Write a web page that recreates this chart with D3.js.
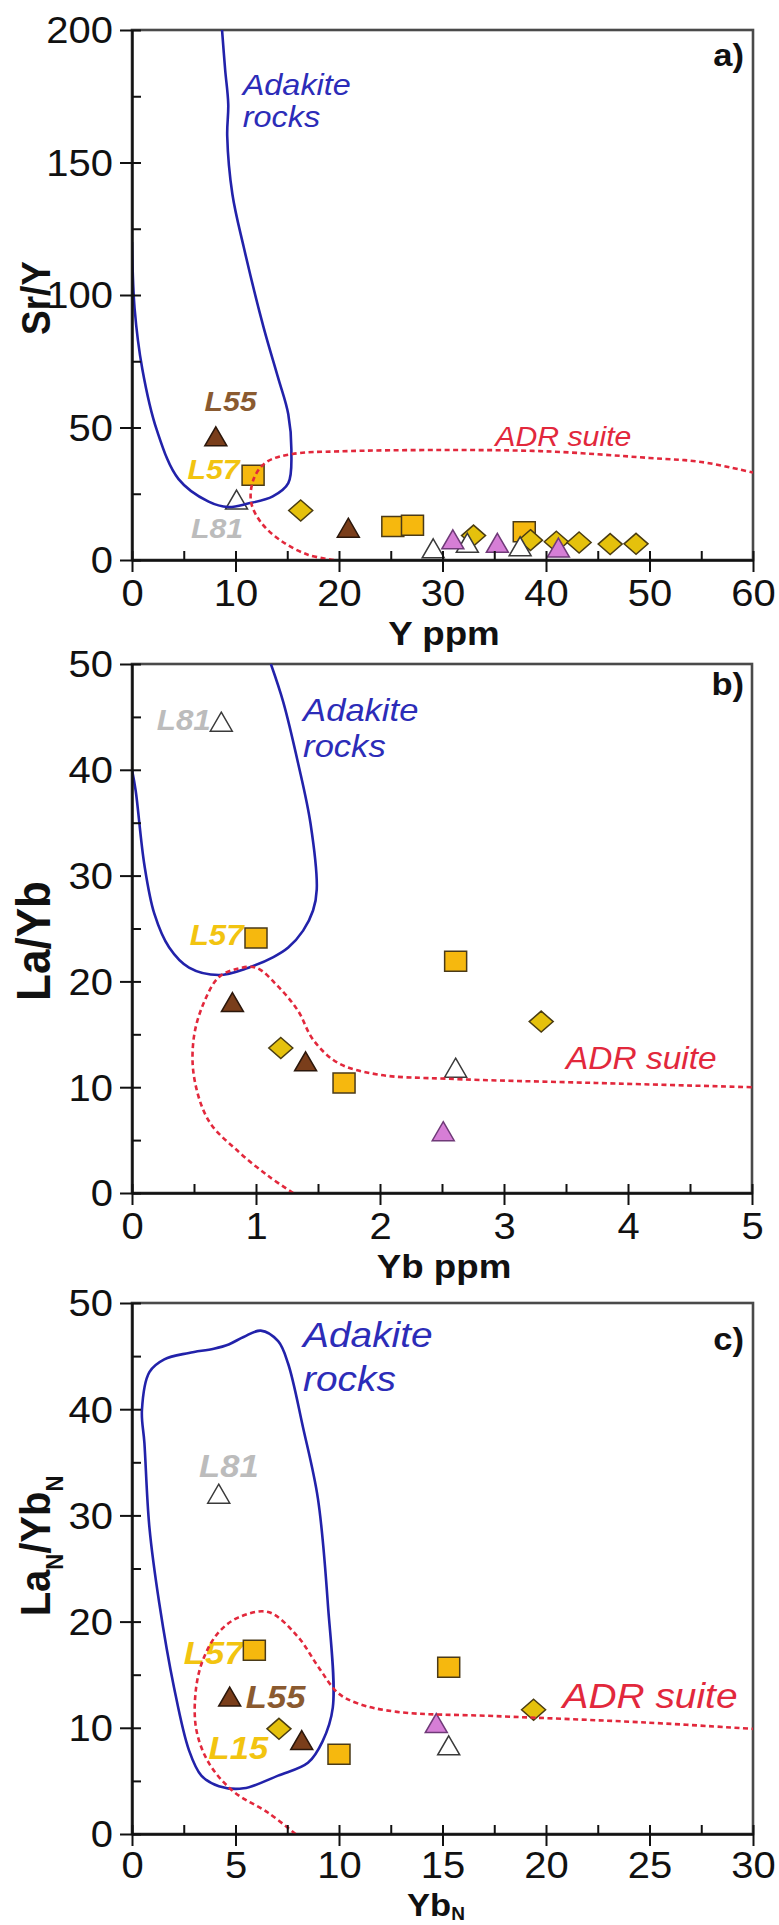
<!DOCTYPE html>
<html><head><meta charset="utf-8">
<script src="https://cdn.jsdelivr.net/npm/d3@7"></script>
<style>body{margin:0;background:#fff} svg{display:block}</style>
</head><body>
<svg id="chart" width="779" height="1925"></svg>
<script>
// ---------------- Panel a: Sr/Y vs Y ppm ----------------
const aXTicks = [0,10,20,30,40,50,60];
const aXMinor = [5,15,25,35,45,55];
const aYTicks = [0,50,100,150,200];
const aYMinor = [25,75,125,175];
const aOrangeSq = [[11.7,32.0],[25.2,12.6],[27.1,13.1],[37.9,10.7]];
const aYellowDia = [[16.3,18.7],[33.0,9.2],[38.5,7.5],[41.0,6.9],[43.2,6.6],[46.2,6.0],[48.7,6.1]];
const aWhiteTri = [[10.1,22.6],[29.1,4.2],[32.4,6.3],[37.5,5.0]];
const aPinkTri = [[31.0,7.6],[35.3,6.3],[41.2,4.5]];
const aBrownTri = [[8.1,46.5],[20.9,12.0]];
const aAdakite = [[8.7,200],[9.0,185],[9.3,172],[9.2,160],[9.7,138],[10.8,118],[12.7,88],[14.1,69],[15.1,55],[15.4,41],[15.1,29],[13.6,24],[11.2,21.3],[9.3,20],[7.4,22],[4.5,30.5],[2.4,49],[1.0,72],[0.25,95],[0,120]];
const aADR = [[19.5,0],[17,2],[14.5,7],[12.5,14],[11.5,22],[11.8,31],[13,37],[15.5,40],[20,41],[30,41.5],[40,41],[50,38.5],[55,37],[60,33]];

// ---------------- Panel b: La/Yb vs Yb ppm ----------------
const bXTicks = [0,1,2,3,4,5];
const bXMinor = [0.5,1.5,2.5,3.5,4.5];
const bYTicks = [0,10,20,30,40,50];
const bYMinor = [5,15,25,35,45];
const bOrangeSq = [[1.0,24.1],[2.61,21.9],[1.71,10.4]];
const bYellowDia = [[1.2,13.7],[3.3,16.2]];
const bWhiteTri = [[0.72,44.5],[2.61,11.8]];
const bPinkTri = [[2.51,5.8]];
const bBrownTri = [[0.81,18.0],[1.4,12.4]];
const bAdakite = [[1.12,50],[1.22,46.4],[1.34,40.6],[1.44,34.9],[1.49,28.7],[1.46,26.7],[1.38,24.8],[1.26,23.2],[1.14,22.3],[0.94,21.3],[0.7,20.6],[0.46,21.3],[0.3,23.2],[0.18,26.4],[0.1,31],[0.03,38],[0,40]];
const bADR = [[1.3,0],[1.1,1.6],[0.86,3.9],[0.62,6.8],[0.5,11],[0.5,14.8],[0.58,18],[0.7,20.4],[0.85,21.2],[1.0,21.3],[1.18,19.5],[1.34,17.2],[1.46,14.5],[1.66,12.3],[1.98,11.2],[2.54,10.8],[3.74,10.4],[5,10]];

// ---------------- Panel c: LaN/YbN vs YbN ----------------
const cXTicks = [0,5,10,15,20,25,30];
const cXMinor = [2.5,7.5,12.5,17.5,22.5,27.5];
const cYTicks = [0,10,20,30,40,50];
const cYMinor = [5,15,25,35,45];
const cOrangeSq = [[5.91,17.3],[10.0,7.5],[15.3,15.7]];
const cYellowDia = [[7.1,9.9],[19.4,11.7]];
const cWhiteTri = [[4.19,32.0],[15.3,8.3]];
const cPinkTri = [[14.7,10.4]];
const cBrownTri = [[4.72,12.9],[8.2,8.8]];
const cAdakite = [[0.48,39.9],[0.84,43.5],[1.56,44.7],[2.75,45.3],[3.95,45.7],[4.67,46.1],[5.39,46.8],[6.22,47.4],[7.06,46.4],[7.54,44.3],[8.26,38.3],[8.98,31.6],[9.46,21.7],[9.7,11.9],[9.2,8.7],[8.5,6.7],[7.06,5.5],[5.39,4.3],[4.2,4.5],[3.35,5.5],[2.75,7.9],[2.03,13.8],[1.32,21.7],[0.84,28.9],[0.6,36.8]];
const cADR = [[7.9,0],[6.58,2],[4.9,4],[3.71,6.7],[3.1,9.9],[3.1,13.8],[3.47,16.6],[4.19,19],[5.15,20.4],[6.58,20.9],[8.0,18.6],[8.98,15.8],[9.94,13.3],[10.9,12.3],[12.8,11.5],[17.6,11.1],[24.8,10.5],[30,9.9]];

// ---------------- rendering ----------------
const FONT = "'Liberation Sans', Arial, Helvetica, sans-serif";
const SX = 1.08;
const svg = d3.select('#chart');

const C = {
  blue:'#2222aa', blueText:'#2c2cb8', red:'#e2283c',
  L55:'#8a5a30', L57:'#f2c410', L81:'#bcbcbc'
};
const markerStyles = [
  {key:'orangeSq', shape:'square', fill:'#f6b80e', stroke:'#4a3a18'},
  {key:'yellowDia', shape:'diamond', fill:'#e5c10c', stroke:'#4a3c12'},
  {key:'whiteTri', shape:'tri', fill:'#ffffff', stroke:'#3a3a3a'},
  {key:'pinkTri', shape:'tri', fill:'#d67ed6', stroke:'#6f3a78'},
  {key:'brownTri', shape:'tri', fill:'#7a3e1b', stroke:'#2b170b'}
];
function shapePath(s){
  if (s==='square') return 'M-11,-10H11V10H-11Z';
  if (s==='diamond') return 'M0,-10.5L12,0L0,10.5L-12,0Z';
  return 'M0,-10L11,9L-11,9Z';
}

function addText(parent, x, y, parts, o){
  const t = parent.append('text')
    .attr('transform', `translate(${x},${y}) scale(${SX},1)` + (o.rotate ? ` rotate(${o.rotate})` : ''))
    .attr('text-anchor', o.anchor || 'start')
    .attr('font-family', FONT)
    .attr('font-size', o.size)
    .attr('font-weight', o.weight || 'normal')
    .attr('font-style', o.style || 'normal')
    .attr('fill', o.color || '#000');
  const sh = o.subShift || 0.3;
  if (typeof parts === 'string') t.text(parts);
  else parts.forEach(p => {
    const s = t.append('tspan').text(p.t);
    if (p.sub) s.attr('font-size', o.size*0.55).attr('dy', o.size*sh);
    if (p.up) s.attr('dy', -o.size*sh);
  });
  return t;
}

const panels = [
  {id:'a', left:132, right:753, top:30, bottom:560, xDom:[0,60], yDom:[0,200],
   xTicks:aXTicks, xMinor:aXMinor, yTicks:aYTicks, yMinor:aYMinor,
   data:{orangeSq:aOrangeSq, yellowDia:aYellowDia, whiteTri:aWhiteTri, pinkTri:aPinkTri, brownTri:aBrownTri},
   adakite:aAdakite, closed:false, adr:aADR,
   xTitle:[{t:'Y ppm'}], xTitleX:444, tickOff:46, titleOff:85, titleSize:34, subShift:0.18,
   yTitle:[{t:'Sr/Y'}], yTitleX:50, yTitleY:298, yTitleSize:37,
   tag:'a)', tagY:66,
   labels:[
     {t:'Adakite', x:10.7, y:175.5, size:30, style:'italic', color:C.blueText},
     {t:'rocks', x:10.7, y:163.4, size:30, style:'italic', color:C.blueText},
     {t:'ADR suite', x:35.1, y:43, size:28, style:'italic', color:C.red},
     {t:'L55', x:7.0, y:56.2, size:28, style:'italic', weight:'bold', color:C.L55},
     {t:'L57', x:10.4, y:30.6, size:28, style:'italic', weight:'bold', color:C.L57, anchor:'end'},
     {t:'L81', x:5.7, y:8.3, size:28, style:'italic', weight:'bold', color:C.L81}
   ]},
  {id:'b', left:132, right:752, top:664, bottom:1193, xDom:[0,5], yDom:[0,50],
   xTicks:bXTicks, xMinor:bXMinor, yTicks:bYTicks, yMinor:bYMinor,
   data:{orangeSq:bOrangeSq, yellowDia:bYellowDia, whiteTri:bWhiteTri, pinkTri:bPinkTri, brownTri:bBrownTri},
   adakite:bAdakite, closed:false, adr:bADR,
   xTitle:[{t:'Yb ppm'}], xTitleX:444, tickOff:46, titleOff:85, titleSize:34, subShift:0.18,
   yTitle:[{t:'La/Yb'}], yTitleX:50, yTitleY:941, yTitleSize:44,
   tag:'b)', tagY:695,
   labels:[
     {t:'Adakite', x:1.38, y:44.6, size:32, style:'italic', color:C.blueText},
     {t:'rocks', x:1.38, y:41.2, size:32, style:'italic', color:C.blueText},
     {t:'ADR suite', x:3.5, y:11.7, size:31, style:'italic', color:C.red},
     {t:'L81', x:0.2, y:43.8, size:29, style:'italic', weight:'bold', color:C.L81},
     {t:'L57', x:0.9, y:23.4, size:29, style:'italic', weight:'bold', color:C.L57, anchor:'end'}
   ]},
  {id:'c', left:132, right:753, top:1303, bottom:1834, xDom:[0,30], yDom:[0,50],
   xTicks:cXTicks, xMinor:cXMinor, yTicks:cYTicks, yMinor:cYMinor,
   data:{orangeSq:cOrangeSq, yellowDia:cYellowDia, whiteTri:cWhiteTri, pinkTri:cPinkTri, brownTri:cBrownTri},
   adakite:cAdakite, closed:true, adr:cADR,
   xTitle:[{t:'Yb'},{t:'N', sub:true}], xTitleX:436, tickOff:44, titleOff:82, titleSize:32, subShift:0.12,
   yTitle:[{t:'La'},{t:'N', sub:true},{t:'/Yb', up:true},{t:'N', sub:true}], yTitleX:50, yTitleY:1546, yTitleSize:40,
   tag:'c)', tagY:1350,
   labels:[
     {t:'Adakite', x:8.26, y:45.9, size:36, style:'italic', color:C.blueText},
     {t:'rocks', x:8.26, y:41.7, size:36, style:'italic', color:C.blueText},
     {t:'ADR suite', x:20.8, y:11.9, size:36, style:'italic', color:C.red},
     {t:'L81', x:3.24, y:33.6, size:32, style:'italic', weight:'bold', color:C.L81},
     {t:'L57', x:5.38, y:16.0, size:32, style:'italic', weight:'bold', color:C.L57, anchor:'end'},
     {t:'L55', x:5.5, y:11.9, size:32, style:'italic', weight:'bold', color:C.L55},
     {t:'L15', x:3.7, y:7.1, size:32, style:'italic', weight:'bold', color:C.L57}
   ]}
];

panels.forEach(p => {
  const g = svg.append('g').attr('class','panel-'+p.id);
  const x = d3.scaleLinear().domain(p.xDom).range([p.left, p.right]);
  const y = d3.scaleLinear().domain(p.yDom).range([p.bottom, p.top]);

  g.append('clipPath').attr('id','clip-'+p.id).append('rect')
    .attr('x',p.left).attr('y',p.top).attr('width',p.right-p.left).attr('height',p.bottom-p.top);

  // frame (top & right)
  g.append('rect').attr('x',p.left).attr('y',p.top).attr('width',p.right-p.left).attr('height',p.bottom-p.top)
    .attr('fill','none').attr('stroke','#4a4a4a').attr('stroke-width',2.6);

  // labels inside
  p.labels.forEach(l => addText(g, x(l.x), y(l.y), l.t, {size:l.size, style:l.style, weight:l.weight, color:l.color, anchor:l.anchor}));

  // markers
  const mg = g.append('g');
  markerStyles.forEach(ms => {
    mg.selectAll('path.'+ms.key).data(p.data[ms.key]).join('path')
      .attr('class', ms.key)
      .attr('d', shapePath(ms.shape))
      .attr('transform', d => `translate(${x(d[0])},${y(d[1])})`)
      .attr('fill', ms.fill).attr('stroke', ms.stroke).attr('stroke-width',1.5);
  });

  // curves
  const cg = g.append('g').attr('clip-path', `url(#clip-${p.id})`);
  const line = d3.line().x(d=>x(d[0])).y(d=>y(d[1])).curve(d3.curveCatmullRom.alpha(0.5));
  const lineClosed = d3.line().x(d=>x(d[0])).y(d=>y(d[1])).curve(d3.curveCatmullRomClosed.alpha(0.5));
  cg.append('path').attr('d', (p.closed ? lineClosed : line)(p.adakite))
    .attr('fill','none').attr('stroke',C.blue).attr('stroke-width',2.6);
  cg.append('path').attr('d', line(p.adr))
    .attr('fill','none').attr('stroke',C.red).attr('stroke-width',2.6).attr('stroke-dasharray','5,3.5');

  // minor ticks (inward)
  g.append('g').attr('transform',`translate(0,${p.bottom})`)
    .call(d3.axisBottom(x).tickValues(p.xMinor).tickSize(-9).tickSizeOuter(0).tickFormat(''))
    .call(a => a.select('.domain').remove())
    .selectAll('line').attr('stroke','#111').attr('stroke-width',2);
  g.append('g').attr('transform',`translate(${p.left},0)`)
    .call(d3.axisLeft(y).tickValues(p.yMinor).tickSize(-9).tickSizeOuter(0).tickFormat(''))
    .call(a => a.select('.domain').remove())
    .selectAll('line').attr('stroke','#111').attr('stroke-width',2);

  // major axes
  const xa = g.append('g').attr('transform',`translate(0,${p.bottom})`)
    .call(d3.axisBottom(x).tickValues(p.xTicks).tickSize(12).tickSizeOuter(0).tickFormat(d3.format('')));
  xa.select('.domain').attr('stroke','#111').attr('stroke-width',2.4);
  xa.selectAll('.tick line').attr('y1',-9).attr('stroke','#111').attr('stroke-width',2);
  xa.selectAll('.tick text').attr('y',null).attr('dy',null)
    .attr('transform',`translate(0,${p.tickOff}) scale(${SX},1)`)
    .attr('font-family',FONT).attr('font-size',37).attr('fill','#111');

  const ya = g.append('g').attr('transform',`translate(${p.left},0)`)
    .call(d3.axisLeft(y).tickValues(p.yTicks).tickSize(12).tickSizeOuter(0).tickFormat(d3.format('')));
  ya.select('.domain').attr('stroke','#111').attr('stroke-width',2.4);
  ya.selectAll('.tick line').attr('x1',9).attr('stroke','#111').attr('stroke-width',2);
  ya.selectAll('.tick text').attr('x',null).attr('dy','0.35em')
    .attr('transform',`translate(-19,0) scale(${SX},1)`)
    .attr('font-family',FONT).attr('font-size',37).attr('fill','#111');

  // titles
  addText(g, p.xTitleX, p.bottom + p.titleOff, p.xTitle, {size:p.titleSize, weight:'bold', anchor:'middle', color:'#111', subShift:p.subShift});
  addText(g, p.yTitleX, p.yTitleY, p.yTitle, {size:p.yTitleSize, weight:'bold', anchor:'middle', rotate:-90, color:'#111'});
  addText(g, 744, p.tagY, p.tag, {size:32, weight:'bold', anchor:'end', color:'#111'});
});
</script>
</body></html>
